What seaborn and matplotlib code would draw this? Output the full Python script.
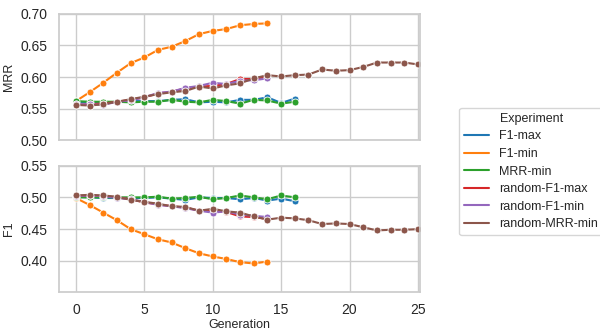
import numpy as np
import pandas as pd
import seaborn as sns
import matplotlib.pyplot as plt
from matplotlib.lines import Line2D

experiments = ["F1-max", "F1-min", "MRR-min", "random-F1-max", "random-F1-min", "random-MRR-min"]

# MRR per generation
mrr_f1_max = [0.561, 0.560, 0.558, 0.561, 0.562, 0.562, 0.562, 0.564, 0.565, 0.560, 0.561, 0.560, 0.564, 0.564, 0.568, 0.559, 0.566]
mrr_f1_min = [0.562, 0.576, 0.591, 0.607, 0.622, 0.631, 0.643, 0.648, 0.657, 0.668, 0.673, 0.676, 0.682, 0.684, 0.685]
mrr_mrr_min = [0.562, 0.561, 0.561, 0.561, 0.560, 0.561, 0.561, 0.564, 0.561, 0.560, 0.564, 0.562, 0.558, 0.564, 0.563, 0.558, 0.561]
mrr_rand_f1_max = [0.557, 0.557, 0.558, 0.561, 0.564, 0.568, 0.574, 0.577, 0.582, 0.585, 0.586, 0.589, 0.597, 0.597, 0.600]
mrr_rand_f1_min = [0.557, 0.557, 0.556, 0.561, 0.563, 0.568, 0.575, 0.577, 0.583, 0.586, 0.591, 0.589, 0.594, 0.595, 0.598]
mrr_rand_mrr_min = [0.556, 0.555, 0.557, 0.561, 0.565, 0.569, 0.573, 0.576, 0.578, 0.585, 0.582, 0.587, 0.590, 0.598, 0.603,
                    0.601, 0.603, 0.604, 0.612, 0.610, 0.611, 0.616, 0.623, 0.623, 0.623, 0.620]

# F1 per generation
f1_f1_max = [0.501, 0.500, 0.499, 0.499, 0.499, 0.499, 0.500, 0.498, 0.496, 0.500, 0.499, 0.499, 0.497, 0.499, 0.495, 0.498, 0.494]
f1_f1_min = [0.499, 0.488, 0.476, 0.464, 0.450, 0.442, 0.434, 0.429, 0.420, 0.412, 0.407, 0.403, 0.398, 0.396, 0.399]
f1_mrr_min = [0.500, 0.500, 0.500, 0.500, 0.500, 0.500, 0.501, 0.498, 0.499, 0.501, 0.497, 0.499, 0.503, 0.500, 0.497, 0.503, 0.500]
f1_rand_f1_max = [0.502, 0.503, 0.502, 0.500, 0.497, 0.492, 0.489, 0.486, 0.484, 0.479, 0.479, 0.477, 0.470, 0.469, 0.466]
f1_rand_f1_min = [0.502, 0.503, 0.502, 0.499, 0.497, 0.493, 0.488, 0.486, 0.483, 0.479, 0.476, 0.478, 0.473, 0.471, 0.469]
f1_rand_mrr_min = [0.503, 0.504, 0.503, 0.501, 0.496, 0.493, 0.490, 0.486, 0.485, 0.479, 0.482, 0.478, 0.476, 0.470, 0.465,
                   0.468, 0.467, 0.464, 0.458, 0.459, 0.458, 0.453, 0.448, 0.449, 0.449, 0.450]

mrr_series = [mrr_f1_max, mrr_f1_min, mrr_mrr_min, mrr_rand_f1_max, mrr_rand_f1_min, mrr_rand_mrr_min]
f1_series = [f1_f1_max, f1_f1_min, f1_mrr_min, f1_rand_f1_max, f1_rand_f1_min, f1_rand_mrr_min]

rows = []
for exp, m, f in zip(experiments, mrr_series, f1_series):
    for gen, (mv, fv) in enumerate(zip(m, f)):
        rows.append({"Experiment": exp, "Generation": gen, "MRR": mv, "F1": fv})
df = pd.DataFrame(rows)

sns.set_theme(style="whitegrid")
plt.rcParams['font.family'] = ['Liberation Sans', 'DejaVu Sans']

palette = sns.color_palette("tab10", len(experiments))

fig, (ax1, ax2) = plt.subplots(2, 1, figsize=(6, 3.3), dpi=100, sharex=True)
fig.subplots_adjust(left=0.098, right=0.70, top=0.958, bottom=0.115, hspace=0.2)

for ax, metric in [(ax1, "MRR"), (ax2, "F1")]:
    sns.lineplot(data=df, x="Generation", y=metric, hue="Experiment", hue_order=experiments,
                 palette=palette, marker="o", markersize=5, markeredgecolor="white",
                 markeredgewidth=0.6, linewidth=1.5, ax=ax, legend=False)
    ax.set_ylabel(metric, fontsize=9)
    ax.tick_params(labelsize=10, pad=2)

ax1.set_ylim(0.5, 0.7)
ax1.set_yticks([0.50, 0.55, 0.60, 0.65, 0.70])
ax2.set_ylim(0.351, 0.55)
ax2.set_yticks([0.40, 0.45, 0.50, 0.55])
ax2.set_xlim(-1.25, 25.15)
ax2.set_xticks([0, 5, 10, 15, 20, 25])
ax1.set_xlabel("")
ax2.set_xlabel("Generation", fontsize=9, labelpad=1)
for ax in (ax1, ax2):
    ax.yaxis.set_major_formatter(plt.FormatStrFormatter("%.2f"))

handles = [Line2D([], [], color=c, lw=1.5) for c in palette]
fig.legend(handles, experiments, title="Experiment", loc="center left",
           bbox_to_anchor=(0.755, 0.48), fontsize=9, title_fontsize=9,
           handlelength=2.0, labelspacing=0.45, frameon=True)

fig.savefig("out.png", dpi=100)
